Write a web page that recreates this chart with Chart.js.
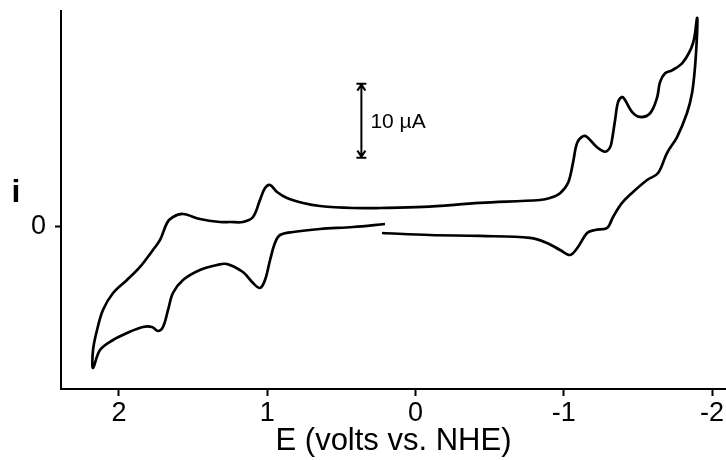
<!DOCTYPE html>
<html lang="en">
<head>
    <meta charset="UTF-8">
    <title>Cyclic voltammogram</title>
    <script src="https://cdn.jsdelivr.net/npm/chart.js"></script>
    <style>
        body {
            margin: 0;
            background: #fff;
        }
        #cv {
            display: block;
        }
    </style>
</head>
<body>
    <canvas id="cv" width="726" height="460"></canvas>
    <script>
        // potential (V vs NHE) and current (uA), one trace
        const potential = [
            0.226, -0.098, -0.435, -0.772, -0.887, -0.975, -1.042, -1.096, -1.157, -1.211, -1.292,
            -1.332, -1.393, -1.467, -1.562, -1.636, -1.696, -1.764, -1.831, -1.865, -1.885, -1.899, -1.899,
            -1.872, -1.804, -1.730, -1.683, -1.649, -1.629, -1.582, -1.514, -1.460, -1.413, -1.393,
            -1.366, -1.346, -1.325, -1.312, -1.278, -1.224, -1.157, -1.130, -1.090, -1.062, -1.029,
            -0.975, -0.907, -0.840, -0.435, -0.051, 0.240, 0.422, 0.644, 0.759, 0.867, 0.934, 0.981,
            1.015, 1.049, 1.096, 1.164, 1.252, 1.319, 1.454, 1.568, 1.636, 1.676, 1.723, 1.771, 1.858,
            1.946, 2.040, 2.108, 2.148, 2.175, 2.175,
            2.128, 2.040, 1.946, 1.838, 1.778, 1.737, 1.703, 1.669, 1.636, 1.568, 1.454, 1.339, 1.272,
            1.164, 1.096, 1.049, 1.015, 0.981, 0.948, 0.914, 0.826, 0.644, 0.422, 0.206
        ];
        const current = [
            -0.88, -1.15, -1.28, -1.55, -2.23, -3.18, -3.85, -2.77, -0.88, -0.47, -0.20,
            1.28, 3.18, 4.66, 6.28, 7.23, 9.93, 12.09, 15.34, 18.04, 21.55, 26.15, 28.18,
            24.8, 22.2, 21.1, 20.7, 19.5, 17.4, 15.3, 14.8, 15.5, 17.1, 17.5,
            16.8, 14.4, 11.7, 10.7, 10.1, 10.7, 12.1, 12.2, 11.3, 8.6, 5.9,
            4.5, 3.85, 3.58, 3.18, 2.64, 2.50, 2.50, 2.77, 3.18, 3.85, 4.66, 5.61,
            5.20, 3.58, 1.28, 0.61, 0.61, 0.61, 1.01, 1.69, 1.28, 0.47, -1.82, -3.18, -5.47,
            -7.23, -8.99, -11.28, -13.99, -16.69, -19.12,
            -16.69, -15.34, -14.39, -13.58, -13.58, -14.12, -13.58, -11.28, -8.99, -7.23, -5.88, -5.20, -5.07,
            -6.15, -7.64, -8.31, -7.23, -4.53, -2.23, -1.15, -0.74, -0.34, -0.07, 0.34
        ];
        const xTicks = [2, 1, 0, -1, -2];
        const yTicks = [0];
        const xTitle = 'E (volts vs. NHE)';
        const yTitle = 'i';
        const scaleBarLabel = '10 \u00b5A';

        const points = potential.map((e, k) => ({ x: e, y: current[k] }));
        const fontFamily = '"Liberation Sans", Arial, sans-serif';

        const extras = {
            id: 'extras',
            afterDraw(chart) {
                const ctx = chart.ctx;
                const xs = chart.scales.x;
                const ys = chart.scales.y;
                ctx.save();
                ctx.fillStyle = '#000';
                ctx.strokeStyle = '#000';

                // "i" axis label, kept upright
                ctx.font = 'bold 32px ' + fontFamily;
                ctx.textAlign = 'center';
                ctx.textBaseline = 'alphabetic';
                ctx.fillText(yTitle, 16, 202);

                // 10 uA scale bar
                const bx = xs.getPixelForValue(0.365);
                const top = ys.getPixelForValue(19.3);
                const bot = ys.getPixelForValue(9.3);
                ctx.lineWidth = 2;
                ctx.beginPath();
                ctx.moveTo(bx, top);
                ctx.lineTo(bx, bot);
                ctx.moveTo(bx - 5, top);
                ctx.lineTo(bx + 5, top);
                ctx.moveTo(bx - 5, bot);
                ctx.lineTo(bx + 5, bot);
                ctx.moveTo(bx - 4, top + 7);
                ctx.lineTo(bx, top + 1);
                ctx.lineTo(bx + 4, top + 7);
                ctx.moveTo(bx - 4, bot - 7);
                ctx.lineTo(bx, bot - 1);
                ctx.lineTo(bx + 4, bot - 7);
                ctx.stroke();

                ctx.font = '21px ' + fontFamily;
                ctx.textAlign = 'left';
                ctx.textBaseline = 'middle';
                ctx.fillText(scaleBarLabel, bx + 9, (top + bot) / 2 + 2);
                ctx.restore();
            }
        };

        new Chart(document.getElementById('cv'), {
            type: 'scatter',
            data: {
                datasets: [{
                    data: points,
                    showLine: true,
                    borderColor: '#000',
                    borderWidth: 2.7,
                    pointRadius: 0,
                    tension: 0.35,
                    fill: false
                }]
            },
            options: {
                responsive: false,
                animation: false,
                layout: { padding: { top: 11, right: 0, left: 0, bottom: 0 } },
                plugins: {
                    legend: { display: false },
                    tooltip: { enabled: false }
                },
                scales: {
                    x: {
                        type: 'linear',
                        reverse: true,
                        min: -2.094,
                        max: 2.391,
                        afterBuildTicks: s => { s.ticks = xTicks.map(v => ({ value: v })); },
                        afterFit: s => {
                            s.height = 71;
                            s.paddingLeft = 0;
                            s.paddingRight = 0;
                        },
                        border: { display: true, color: '#000', width: 2 },
                        grid: { drawOnChartArea: false, drawTicks: true, tickLength: 7, tickWidth: 2, tickColor: '#000' },
                        ticks: {
                            color: '#000',
                            padding: 1,
                            font: { family: fontFamily, size: 27 }
                        },
                        title: {
                            display: true,
                            text: xTitle,
                            color: '#000',
                            padding: { top: 0, bottom: 0 },
                            font: { family: fontFamily, size: 31 }
                        }
                    },
                    y: {
                        type: 'linear',
                        min: -21.96,
                        max: 29.12,
                        afterBuildTicks: s => { s.ticks = yTicks.map(v => ({ value: v })); },
                        afterFit: s => {
                            s.width = 61;
                            s.paddingTop = 0;
                            s.paddingBottom = 0;
                        },
                        border: { display: true, color: '#000', width: 2 },
                        grid: { drawOnChartArea: false, drawTicks: true, tickLength: 6, tickWidth: 2, tickColor: '#000' },
                        ticks: {
                            color: '#000',
                            padding: 9,
                            font: { family: fontFamily, size: 27 }
                        }
                    }
                }
            },
            plugins: [extras]
        });
    </script>
</body>
</html>
